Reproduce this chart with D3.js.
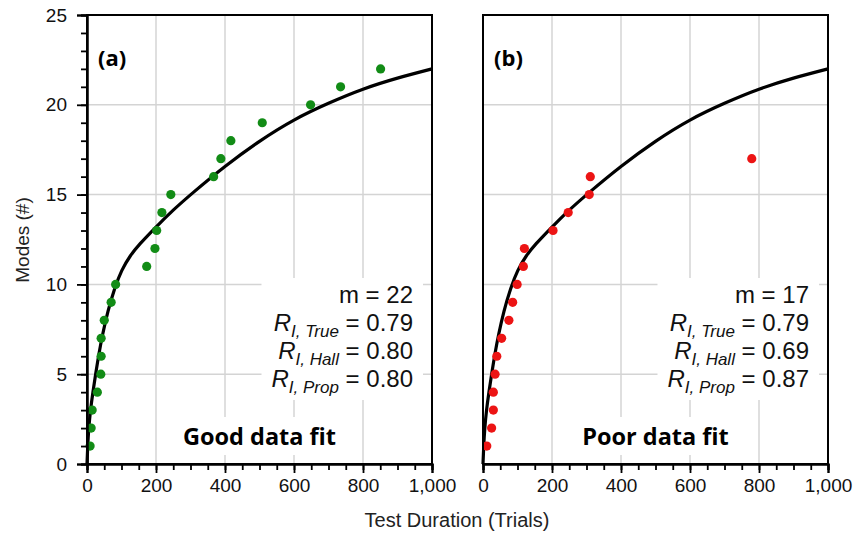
<!DOCTYPE html>
<html>
<head>
<meta charset="utf-8">
<script src="https://cdn.jsdelivr.net/npm/d3@7"></script>
<style>
  body { margin: 0; background: #fff; }
  text { font-family: "Liberation Sans", Arial, sans-serif; }
</style>
</head>
<body>
<svg id="chart" width="858" height="534"></svg>
<script>
// panel (a): good data fit
const trialsA = [9, 12, 15, 30, 40, 41, 41, 50, 70, 83, 173, 197, 202, 217, 243, 367, 388, 417, 508, 648, 735, 851]
const modesA = [1, 2, 3, 4, 5, 6, 7, 8, 9, 10, 11, 12, 13, 14, 15, 16, 17, 18, 19, 20, 21, 22]
// panel (b): poor data fit
const trialsB = [11, 25, 30, 30, 35, 40, 54, 75, 86, 99, 117, 120, 203, 247, 308, 311, 779]
const modesB = [1, 2, 3, 4, 5, 6, 7, 8, 9, 10, 11, 12, 13, 14, 15, 16, 17]
// fitted curve (same in both panels)
const fitTrials = [0, 2, 5, 10, 17, 25, 35, 45, 60, 80, 100, 125, 150, 200, 250, 300, 400, 500, 600, 700, 800, 900, 1000]
const fitModes = [0, 1, 2, 3, 4, 5, 6.2, 7.2, 8.5, 9.8, 10.8, 11.6, 12.2, 13.2, 14.15, 15.0, 16.6, 18.0, 19.2, 20.1, 20.9, 21.5, 22]

const xTicks = [0, 200, 400, 600, 800, 1000]
const yTicks = [0, 5, 10, 15, 20, 25]

const statsA = [['m', '', '22'], ['R', 'I, True', '0.79'], ['R', 'I, Hall', '0.80'], ['R', 'I, Prop', '0.80']]
const statsB = [['m', '', '17'], ['R', 'I, True', '0.79'], ['R', 'I, Hall', '0.69'], ['R', 'I, Prop', '0.87']]

const panels = [
  { x0: 87, x1: 432, trials: trialsA, modes: modesA, color: '#128c16', tag: '(a)', note: 'Good data fit', stats: statsA, yLabels: true },
  { x0: 483, x1: 828, trials: trialsB, modes: modesB, color: '#ec1414', tag: '(b)', note: 'Poor data fit', stats: statsB, yLabels: false }
]

const plotTop = 15
const plotBottom = 464
const svg = d3.select('#chart')

const y = d3.scaleLinear().domain([0, 25]).range([plotBottom, plotTop])

panels.forEach(p => {
  const x = d3.scaleLinear().domain([0, 1000]).range([p.x0, p.x1])
  const g = svg.append('g')

  // grid
  g.append('g').selectAll('line')
    .data(xTicks.slice(1, -1))
    .enter().append('line')
    .attr('x1', d => x(d)).attr('x2', d => x(d))
    .attr('y1', plotTop).attr('y2', plotBottom)
    .attr('stroke', '#d4d4d4').attr('stroke-width', 1.5)
  g.append('g').selectAll('line')
    .data(yTicks.slice(1, -1))
    .enter().append('line')
    .attr('y1', d => y(d)).attr('y2', d => y(d))
    .attr('x1', p.x0).attr('x2', p.x1)
    .attr('stroke', '#d4d4d4').attr('stroke-width', 1.5)

  // white boxes behind the texts (filled after the text is measured)
  const boxes = g.append('g')

  // stats block, right aligned
  const stats = g.append('g')
  p.stats.forEach((s, i) => {
    const t = stats.append('text')
      .attr('x', p.x1 - 19)
      .attr('y', 303 + i * 28)
      .attr('text-anchor', 'end')
      .style('font-size', '24px')
      .attr('fill', '#111')
    if (s[1]) {
      t.append('tspan').text(s[0]).style('font-style', 'italic')
      t.append('tspan').text(s[1]).style('font-style', 'italic')
        .style('font-size', '17px').attr('dy', 6)
      t.append('tspan').text(' = ' + s[2]).attr('dy', -6)
    } else {
      t.text(s[0] + ' = ' + s[2])
    }
  })

  const note = g.append('text')
    .attr('x', (p.x0 + p.x1) / 2)
    .attr('y', 445)
    .attr('text-anchor', 'middle')
    .style('font-family', '"Open Sans", sans-serif')
    .style('font-weight', 'bold')
    .style('font-size', '23.5px')
    .text(p.note)

  ;[stats.node(), note.node()].forEach(n => {
    const b = n.getBBox()
    boxes.append('rect')
      .attr('x', b.x - 10).attr('y', b.y - 3)
      .attr('width', b.width + 20).attr('height', b.height + 6)
      .attr('fill', '#fff')
  })

  g.append('text')
    .attr('x', p.x0 + 11)
    .attr('y', 66)
    .style('font-family', '"Open Sans", sans-serif')
    .style('font-weight', 'bold')
    .style('font-size', '22px')
    .text(p.tag)

  // fitted curve
  g.append('path')
    .datum(fitTrials.map((t, i) => [t, fitModes[i]]))
    .attr('fill', 'none')
    .attr('stroke', '#000')
    .attr('stroke-width', 3.2)
    .attr('d', d3.line().x(d => x(d[0])).y(d => y(d[1])).curve(d3.curveBasis))

  // observations
  g.append('g').selectAll('circle')
    .data(p.trials.map((t, i) => [t, p.modes[i]]))
    .enter().append('circle')
    .attr('cx', d => x(d[0]))
    .attr('cy', d => y(d[1]))
    .attr('r', 4.6)
    .attr('fill', p.color)

  // frame
  g.append('rect')
    .attr('x', p.x0).attr('y', plotTop)
    .attr('width', p.x1 - p.x0).attr('height', plotBottom - plotTop)
    .attr('fill', 'none').attr('stroke', '#000').attr('stroke-width', 2)

  // x axis: minor then major ticks
  g.append('g')
    .attr('transform', `translate(0,${plotBottom})`)
    .call(d3.axisBottom(x).tickValues(d3.range(0, 1001, 50)).tickSize(6).tickFormat(''))
  const xa = g.append('g')
    .attr('transform', `translate(0,${plotBottom})`)
    .call(d3.axisBottom(x).tickValues(xTicks).tickSize(9).tickPadding(6).tickFormat(d3.format(',')))
  xa.selectAll('text').style('font-size', '19px').attr('fill', '#111')

  if (p.yLabels) {
    g.append('g')
      .attr('transform', `translate(${p.x0},0)`)
      .call(d3.axisLeft(y).tickValues(d3.range(0, 26, 1)).tickSize(6).tickFormat(''))
    const ya = g.append('g')
      .attr('transform', `translate(${p.x0},0)`)
      .call(d3.axisLeft(y).tickValues(yTicks).tickSize(10).tickPadding(10))
    ya.selectAll('text').style('font-size', '19px').attr('fill', '#111')
  }

  g.selectAll('.domain').attr('stroke-width', 2)
  g.selectAll('.tick line').attr('stroke-width', 1.8)
})

svg.append('text')
  .attr('transform', 'translate(29,240) rotate(-90)')
  .attr('text-anchor', 'middle')
  .style('font-size', '19px')
  .attr('fill', '#222')
  .text('Modes (#)')

svg.append('text')
  .attr('x', 457)
  .attr('y', 527)
  .attr('text-anchor', 'middle')
  .style('font-size', '20px')
  .attr('fill', '#222')
  .text('Test Duration (Trials)')
</script>
</body>
</html>
